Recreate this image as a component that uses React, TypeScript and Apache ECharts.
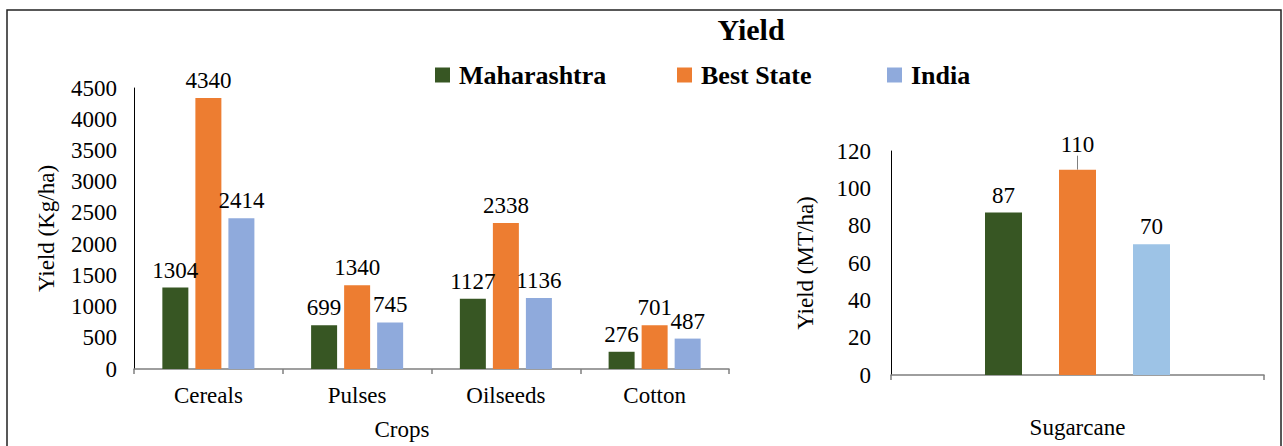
import React, { useEffect, useRef } from "react";
import * as echarts from "echarts";

const crops = ["Cereals", "Pulses", "Oilseeds", "Cotton"];
const maharashtra = [1304, 699, 1127, 276];
const bestState = [4340, 1340, 2338, 701];
const india = [2414, 745, 1136, 487];

const sugarCategories = ["Sugarcane"];
const sugarMaharashtra = [87];
const sugarBestState = [110];
const sugarIndia = [70];

const seriesNames = ["Maharashtra", "Best State", "India"];
const GREEN = "#375623";
const ORANGE = "#ED7D31";
const BLUE = "#8FAADC";
const BLUE2 = "#9DC3E6";
const FONT = "'Liberation Serif', 'Times New Roman', serif";
const FS = 23;

export default function App() {
  const ref = useRef<HTMLDivElement>(null);
  useEffect(() => {
    if (!ref.current) return;
    const chart = echarts.init(ref.current, undefined, { renderer: "svg" });
    const label = {
      show: true,
      position: "top" as const,
      distance: 6,
      fontSize: FS,
      fontFamily: FONT,
      color: "#000",
    };
    const axisLabel = {
      fontSize: FS,
      fontFamily: FONT,
      color: "#000",
    };
    const legendBase = {
      top: 57,
      itemWidth: 15,
      itemHeight: 15,
      icon: "rect",
      textStyle: {
        fontSize: 26,
        fontWeight: "bold" as const,
        fontFamily: FONT,
        color: "#000",
        padding: [0, 0, 0, 4],
      },
    };
    chart.setOption({
      animation: false,
      backgroundColor: "#fff",
      title: {
        text: "Yield",
        left: 746,
        top: 9,
        textAlign: "center",
        textStyle: { fontSize: 30, fontWeight: "bold", fontFamily: FONT, color: "#000" },
      },
      legend: [
        { ...legendBase, left: 430, data: [seriesNames[0]] },
        { ...legendBase, left: 672, data: [seriesNames[1]] },
        { ...legendBase, left: 882, data: [seriesNames[2]] },
      ],
      graphic: [
        {
          type: "rect",
          shape: { x: 7, y: 10, width: 1274, height: 470 },
          style: { fill: "none", stroke: "#222", lineWidth: 1.5 },
          silent: true,
        },
      ],
      grid: [
        { left: 134, right: 554, top: 88, bottom: 77 },
        { left: 891, right: 19, top: 151, bottom: 71 },
      ],
      xAxis: [
        {
          type: "category",
          gridIndex: 0,
          data: crops,
          name: "Crops",
          nameLocation: "middle",
          nameGap: 49,
          nameTextStyle: { fontSize: FS, fontFamily: FONT, color: "#000", padding: [0, 59, 0, 0] },
          axisLine: { lineStyle: { color: "#7f7f7f", width: 1.5 } },
          axisTick: { show: true, length: 5, lineStyle: { color: "#7f7f7f", width: 1.5 } },
          axisLabel: { ...axisLabel, margin: 15 },
        },
        {
          type: "category",
          gridIndex: 1,
          data: sugarCategories,
          axisLine: { lineStyle: { color: "#7f7f7f", width: 1.5 } },
          axisTick: { show: true, length: 5, lineStyle: { color: "#7f7f7f", width: 1.5 } },
          axisLabel: { ...axisLabel, margin: 41 },
        },
      ],
      yAxis: [
        {
          type: "value",
          gridIndex: 0,
          min: 0,
          max: 4500,
          interval: 500,
          name: "Yield (Kg/ha)",
          nameLocation: "middle",
          nameGap: 76,
          nameTextStyle: { fontSize: FS, fontFamily: FONT, color: "#000" },
          axisLine: { show: true, lineStyle: { color: "#000", width: 1 } },
          axisTick: { show: false },
          splitLine: { show: false },
          axisLabel: { ...axisLabel, margin: 17, formatter: (v: number) => String(v) },
        },
        {
          type: "value",
          gridIndex: 1,
          min: 0,
          max: 120,
          interval: 20,
          name: "Yield (MT/ha)",
          nameLocation: "middle",
          nameGap: 74,
          nameTextStyle: { fontSize: FS, fontFamily: FONT, color: "#000" },
          axisLine: { show: true, lineStyle: { color: "#000", width: 1 } },
          axisTick: { show: false },
          splitLine: { show: false },
          axisLabel: { ...axisLabel, margin: 20, formatter: (v: number) => String(v) },
        },
      ],
      series: [
        {
          name: seriesNames[0],
          type: "bar",
          xAxisIndex: 0,
          yAxisIndex: 0,
          data: maharashtra,
          barWidth: 26,
          barGap: "27%",
          itemStyle: { color: GREEN },
          label,
        },
        {
          name: seriesNames[1],
          type: "bar",
          xAxisIndex: 0,
          yAxisIndex: 0,
          data: bestState,
          barWidth: 26,
          barGap: "27%",
          itemStyle: { color: ORANGE },
          label,
        },
        {
          name: seriesNames[2],
          type: "bar",
          xAxisIndex: 0,
          yAxisIndex: 0,
          data: india,
          barWidth: 26,
          barGap: "27%",
          itemStyle: { color: BLUE },
          label,
        },
        {
          name: "Sugarcane Maharashtra",
          type: "bar",
          xAxisIndex: 1,
          yAxisIndex: 1,
          data: sugarMaharashtra,
          barWidth: 37,
          barGap: "100%",
          itemStyle: { color: GREEN },
          label,
        },
        {
          name: "Sugarcane Best State",
          type: "bar",
          xAxisIndex: 1,
          yAxisIndex: 1,
          data: sugarBestState,
          barWidth: 37,
          barGap: "100%",
          itemStyle: { color: ORANGE },
          label,
          labelLayout: { dy: -8 },
          labelLine: { show: true, lineStyle: { color: "#808080", width: 1 } },
        },
        {
          name: "Sugarcane India",
          type: "bar",
          xAxisIndex: 1,
          yAxisIndex: 1,
          data: sugarIndia,
          barWidth: 37,
          barGap: "100%",
          itemStyle: { color: BLUE2 },
          label,
        },
      ],
    });
    return () => chart.dispose();
  }, []);
  return (
    <div
      ref={ref}
      style={{ position: "absolute", left: 0, top: 0, width: 1283, height: 446 }}
    />
  );
}
